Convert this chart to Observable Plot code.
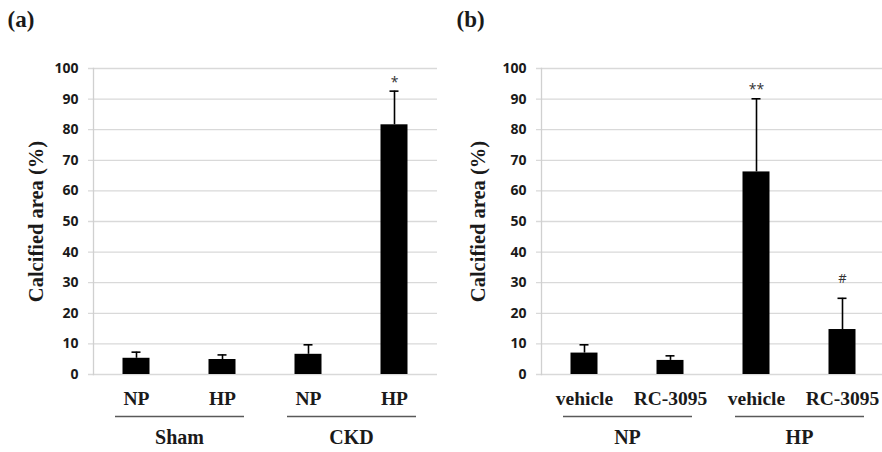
<!DOCTYPE html>
<html><head><meta charset="utf-8">
<script src="https://cdn.jsdelivr.net/npm/d3@7"></script>
<script src="https://cdn.jsdelivr.net/npm/@observablehq/plot@0.6"></script>
<style>
body{margin:0;background:#fff;overflow:hidden}
#wrap{display:flex;width:882px;height:452px;overflow:hidden}
#wrap svg{flex:none}
</style></head><body><div id="wrap"></div>
<script>
const yTicks = [0, 10, 20, 30, 40, 50, 60, 70, 80, 90, 100];
const yLabel = "Calcified area (%)";

// Panel (a)
const keysA = ["Sham-NP", "Sham-HP", "CKD-NP", "CKD-HP"];
const labelsA = ["NP", "HP", "NP", "HP"];
const meansA = [5.3, 4.9, 6.6, 81.6];
const sdA = [2.0, 1.5, 3.1, 11.0];
const sigA = ["", "", "", "*"];
const groupsA = ["Sham", "CKD"];
const groupFirstA = ["Sham-NP", "CKD-NP"];
const groupLastA = ["Sham-HP", "CKD-HP"];

// Panel (b)
const keysB = ["NP-vehicle", "NP-RC", "HP-vehicle", "HP-RC"];
const labelsB = ["vehicle", "RC-3095", "vehicle", "RC-3095"];
const meansB = [7.0, 4.6, 66.2, 14.7];
const sdB = [2.7, 1.5, 23.9, 10.2];
const sigB = ["", "", "**", "#"];
const groupsB = ["NP", "HP"];
const groupFirstB = ["NP-vehicle", "HP-vehicle"];
const groupLastB = ["NP-RC", "HP-RC"];

const serif = "'Liberation Serif', 'Times New Roman', serif";

function panel({tag, keys, labels, means, sds, sigs, groups, firsts, lasts, width, marginLeft, marginRight, labelDx, tagDx}) {
  const rows = keys.map((k, i) => ({key: k, label: labels[i], mean: means[i], sd: sds[i], sig: sigs[i]}));
  const grp = groups.map((g, i) => ({name: g, first: firsts[i], last: lasts[i]}));
  return Plot.plot({
    width, height: 452,
    marginTop: 68, marginBottom: 78, marginLeft, marginRight,
    style: {fontFamily: "'Open Sans', sans-serif", fontSize: "14px", fontWeight: 700, background: "#fff", color: "#1a1a1a"},
    x: {domain: keys, padding: 0, axis: null},
    y: {domain: [0, 100], axis: null},
    marks: [
      Plot.gridY(yTicks, {stroke: "#d9d9d9", strokeOpacity: 1, strokeWidth: 1.3, insetLeft: -5}),
      Plot.frame({anchor: "left", stroke: "#d0d0d0", strokeWidth: 1.3}),
      Plot.axisY(yTicks, {label: null, tickSize: 0, tickPadding: 15, fontSize: 14, fontWeight: 700}),
      Plot.barY(rows, {x: "key", y: "mean", fill: "#000", insetLeft: 29.5, insetRight: 29.5}),
      Plot.ruleX(rows, {x: "key", y1: "mean", y2: d => d.mean + d.sd, stroke: "#000", strokeWidth: 1.6}),
      Plot.tickY(rows, {x: "key", y: d => d.mean + d.sd, stroke: "#000", strokeWidth: 1.6, insetLeft: 38.5, insetRight: 38.5}),
      Plot.text(rows.filter(d => d.sig.includes("*")), {x: "key", y: d => d.mean + d.sd, text: "sig", dy: -9, fontSize: 14, fontWeight: 400, fill: "#333"}),
      Plot.text(rows.filter(d => d.sig.includes("#")), {x: "key", y: d => d.mean + d.sd, text: "sig", dy: -19, fontSize: 13, fontWeight: 400, fill: "#333"}),
      Plot.text(rows, {x: "key", text: "label", frameAnchor: "bottom", lineAnchor: "middle", dy: 24, fontFamily: serif, fontSize: 19.5, fontWeight: 700}),
      Plot.ruleY(grp, {x1: "first", x2: "last", y: () => 0, dy: 42, insetLeft: 22, insetRight: 21, stroke: "#595959", strokeWidth: 1.3}),
      Plot.text(grp, {x: "first", text: "name", frameAnchor: "bottom", lineAnchor: "middle", dx: 43, dy: 63, fontFamily: serif, fontSize: 20, fontWeight: 700}),
      Plot.text([yLabel], {frameAnchor: "left", textAnchor: "middle", lineAnchor: "middle", rotate: -90, dx: labelDx, fontFamily: serif, fontSize: 20.5, fontWeight: 700}),
      Plot.text([tag], {frameAnchor: "top-left", textAnchor: "start", lineAnchor: "middle", dx: tagDx, dy: -49, fontFamily: serif, fontSize: 23, fontWeight: 700})
    ]
  });
}

const wrap = document.getElementById("wrap");
wrap.append(panel({tag: "(a)", keys: keysA, labels: labelsA, means: meansA, sds: sdA, sigs: sigA,
  groups: groupsA, firsts: groupFirstA, lasts: groupLastA, width: 441, marginLeft: 93, marginRight: 4, labelDx: -57, tagDx: -86}));
wrap.append(panel({tag: "(b)", keys: keysB, labels: labelsB, means: meansB, sds: sdB, sigs: sigB,
  groups: groupsB, firsts: groupFirstB, lasts: groupLastB, width: 444, marginLeft: 100, marginRight: 0, labelDx: -63, tagDx: -85}));
</script></body></html>
